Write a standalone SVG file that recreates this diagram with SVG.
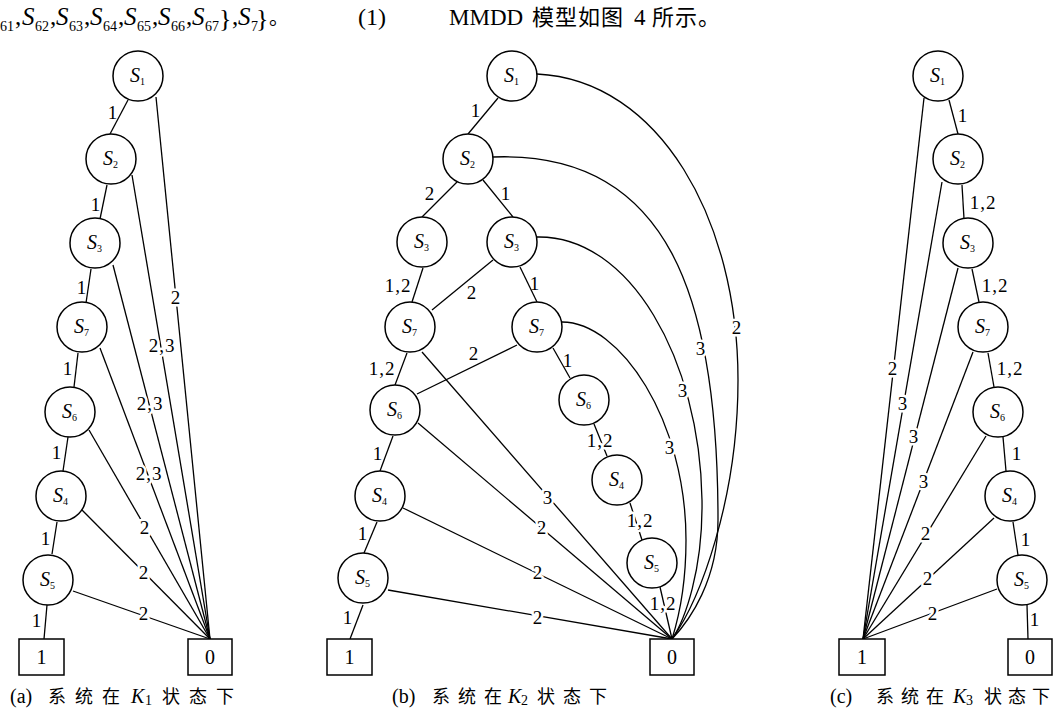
<svg xmlns="http://www.w3.org/2000/svg" width="1060" height="713" viewBox="0 0 1060 713">
<style>
.n circle{fill:#fff;stroke:#000;stroke-width:1.5}
.n rect{fill:#fff;stroke:#000;stroke-width:1.5}
.c line,.c path{stroke:#000;stroke-width:1.3;fill:none}
.t{font-family:"Liberation Serif","Times New Roman",Tinos,"DejaVu Serif",serif;fill:#000}
.nl{font-family:"Liberation Serif","Times New Roman",Tinos,"DejaVu Serif",serif;font-style:italic;font-size:20px;fill:#000}
.sb{font-style:normal;font-size:10px}
.lb{font-family:"Liberation Serif","Times New Roman",Tinos,"DejaVu Serif",serif;font-size:19px;text-anchor:middle;fill:#000;letter-spacing:1px}
.lh{font-family:"Liberation Serif","Times New Roman",Tinos,"DejaVu Serif",serif;font-size:19px;text-anchor:middle;fill:#000;letter-spacing:1px;stroke:#fff;stroke-width:5px;paint-order:stroke;stroke-linejoin:round}
.bx{font-family:"Liberation Serif","Times New Roman",Tinos,"DejaVu Serif",serif;font-size:20px;text-anchor:middle;fill:#000}
.cap{font-family:"Liberation Serif","Times New Roman","Noto Sans CJK SC",serif;font-size:18px;fill:#000}
.cj{font-family:"Liberation Serif","Times New Roman","Noto Sans CJK SC",serif;fill:#000}
</style>

<!-- top running text -->
<g id="toptext" class="t">
<text font-size="25"><tspan x="0" y="31" font-size="14">61</tspan><tspan x="15" y="25">,</tspan><tspan x="22" y="25" font-style="italic">S</tspan><tspan x="35" y="31" font-size="14">62</tspan><tspan x="50" y="25">,</tspan><tspan x="56" y="25" font-style="italic">S</tspan><tspan x="69" y="31" font-size="14">63</tspan><tspan x="84" y="25">,</tspan><tspan x="90" y="25" font-style="italic">S</tspan><tspan x="103" y="31" font-size="14">64</tspan><tspan x="118" y="25">,</tspan><tspan x="124" y="25" font-style="italic">S</tspan><tspan x="137" y="31" font-size="14">65</tspan><tspan x="152" y="25">,</tspan><tspan x="158" y="25" font-style="italic">S</tspan><tspan x="171" y="31" font-size="14">66</tspan><tspan x="186" y="25">,</tspan><tspan x="192" y="25" font-style="italic">S</tspan><tspan x="205" y="31" font-size="14">67</tspan><tspan x="219" y="27" font-size="26">}</tspan><tspan x="232" y="25">,</tspan><tspan x="238" y="25" font-style="italic">S</tspan><tspan x="251" y="31" font-size="14">7</tspan><tspan x="256" y="27" font-size="26">}</tspan></text>
<text x="269" y="25" font-size="20" class="cj">。</text>
<text x="358" y="25" font-size="24">(1)</text>
<text y="25" class="cj"><tspan x="449" font-size="23">MMDD</tspan><tspan x="532" font-size="22" letter-spacing="1">模型如图</tspan><tspan x="634" font-size="23">4</tspan><tspan x="652" font-size="22" letter-spacing="1">所示。</tspan></text>
</g>

<!-- ===== connectors ===== -->
<g id="connectors" class="c">
<!-- panel a -->
<line x1="128" y1="100" x2="110" y2="134"/>
<line x1="107" y1="185" x2="100" y2="219"/>
<line x1="91" y1="269" x2="86" y2="303"/>
<line x1="78" y1="353" x2="74" y2="387"/>
<line x1="68" y1="437" x2="63" y2="471"/>
<line x1="57" y1="522" x2="52" y2="554"/>
<line x1="47" y1="605" x2="44" y2="639"/>
<line x1="156" y1="97" x2="210" y2="639"/>
<line x1="132" y1="175" x2="210" y2="639"/>
<line x1="113" y1="265" x2="210" y2="639"/>
<line x1="100" y1="348" x2="210" y2="639"/>
<line x1="89" y1="430" x2="210" y2="639"/>
<line x1="82" y1="510" x2="210" y2="639"/>
<line x1="73" y1="591" x2="210" y2="639"/>
<!-- panel b -->
<line x1="498" y1="98" x2="468" y2="134"/>
<line x1="457" y1="182" x2="422" y2="217"/>
<line x1="483" y1="180" x2="513" y2="217"/>
<line x1="423" y1="268" x2="412" y2="302"/>
<line x1="493" y1="260" x2="432" y2="310"/>
<line x1="520" y1="267" x2="537" y2="302"/>
<line x1="407" y1="353" x2="395" y2="385"/>
<line x1="517" y1="345" x2="417" y2="394"/>
<line x1="422" y1="352" x2="672" y2="639"/>
<line x1="553" y1="348" x2="570" y2="378"/>
<line x1="393" y1="436" x2="380" y2="471"/>
<line x1="418" y1="423" x2="672" y2="639"/>
<line x1="377" y1="522" x2="364" y2="553"/>
<line x1="403" y1="508" x2="672" y2="639"/>
<line x1="363" y1="605" x2="350" y2="639"/>
<line x1="388" y1="590" x2="672" y2="639"/>
<line x1="594" y1="424" x2="607" y2="456"/>
<line x1="630" y1="503" x2="642" y2="540"/>
<line x1="660" y1="587" x2="672" y2="639"/>
<path d="M537,74 C660,80 738,220 738,380 C738,500 700,600 672,639"/>
<path d="M493,157 C670,150 718,300 718,520 C718,580 690,620 672,639"/>
<path d="M537,237 C630,235 700,360 702,500 C703,570 685,620 672,639"/>
<path d="M562,322 C620,322 686,420 686,540 C686,590 678,620 672,639"/>
<!-- panel c -->
<line x1="949" y1="100" x2="958" y2="134"/>
<line x1="962" y1="185" x2="964" y2="219"/>
<line x1="972" y1="269" x2="979" y2="302"/>
<line x1="988" y1="353" x2="994" y2="387"/>
<line x1="1003" y1="437" x2="1006" y2="471"/>
<line x1="1013" y1="522" x2="1018" y2="555"/>
<line x1="1027" y1="605" x2="1028" y2="639"/>
<line x1="924" y1="98" x2="863" y2="639"/>
<line x1="942" y1="182" x2="863" y2="639"/>
<line x1="958" y1="268" x2="863" y2="639"/>
<line x1="973" y1="352" x2="863" y2="639"/>
<line x1="986" y1="436" x2="863" y2="639"/>
<line x1="994" y1="518" x2="863" y2="639"/>
<line x1="997" y1="589" x2="863" y2="639"/>

<!-- labels panel a -->
<text class="lb" x="113" y="119">1</text>
<text class="lb" x="96" y="211">1</text>
<text class="lb" x="82" y="294">1</text>
<text class="lb" x="68" y="375">1</text>
<text class="lb" x="57" y="459">1</text>
<text class="lb" x="46" y="545">1</text>
<text class="lb" x="37" y="627">1</text>
<text class="lh" x="176" y="304">2</text>
<text class="lh" x="162" y="352">2,3</text>
<text class="lh" x="150" y="410">2,3</text>
<text class="lh" x="149" y="480">2,3</text>
<text class="lh" x="145" y="534">2</text>
<text class="lh" x="144" y="579">2</text>
<text class="lh" x="144" y="620">2</text>
<!-- labels panel b -->
<text class="lb" x="476" y="117">1</text>
<text class="lb" x="430" y="200">2</text>
<text class="lb" x="506" y="200">1</text>
<text class="lb" x="398" y="292">1,2</text>
<text class="lb" x="472" y="299">2</text>
<text class="lb" x="535" y="290">1</text>
<text class="lb" x="382" y="375">1,2</text>
<text class="lb" x="474" y="360">2</text>
<text class="lb" x="568" y="367">1</text>
<text class="lh" x="548" y="504">3</text>
<text class="lb" x="378" y="460">1</text>
<text class="lh" x="542" y="534">2</text>
<text class="lb" x="363" y="540">1</text>
<text class="lh" x="538" y="579">2</text>
<text class="lb" x="348" y="624">1</text>
<text class="lh" x="538" y="624">2</text>
<text class="lh" x="600" y="447">1,2</text>
<text class="lh" x="640" y="527">1,2</text>
<text class="lh" x="663" y="610">1,2</text>
<text class="lh" x="737" y="334">2</text>
<text class="lh" x="701" y="355">3</text>
<text class="lh" x="683" y="397">3</text>
<text class="lh" x="670" y="454">3</text>
<!-- labels panel c -->
<text class="lb" x="963" y="122">1</text>
<text class="lb" x="983" y="209">1,2</text>
<text class="lb" x="995" y="292">1,2</text>
<text class="lb" x="1010" y="375">1,2</text>
<text class="lb" x="1017" y="460">1</text>
<text class="lb" x="1026" y="546">1</text>
<text class="lb" x="1035" y="626">1</text>
<text class="lh" x="893" y="375">2</text>
<text class="lh" x="903" y="410">3</text>
<text class="lh" x="914" y="443">3</text>
<text class="lh" x="924" y="488">3</text>
<text class="lh" x="926" y="540">2</text>
<text class="lh" x="928" y="585">2</text>
<text class="lh" x="933" y="620">2</text>
</g>

<!-- ===== nodes panel a ===== -->
<g id="a_S1" class="n"><circle cx="138" cy="76" r="25"/><text class="nl" x="130" y="82">S<tspan class="sb" dy="3">1</tspan></text></g>
<g id="a_S2" class="n"><circle cx="111" cy="159" r="25"/><text class="nl" x="103" y="165">S<tspan class="sb" dy="3">2</tspan></text></g>
<g id="a_S3" class="n"><circle cx="95" cy="243" r="25"/><text class="nl" x="87" y="249">S<tspan class="sb" dy="3">3</tspan></text></g>
<g id="a_S7" class="n"><circle cx="82" cy="327" r="25"/><text class="nl" x="74" y="333">S<tspan class="sb" dy="3">7</tspan></text></g>
<g id="a_S6" class="n"><circle cx="70" cy="412" r="25"/><text class="nl" x="62" y="418">S<tspan class="sb" dy="3">6</tspan></text></g>
<g id="a_S4" class="n"><circle cx="61" cy="496" r="25"/><text class="nl" x="53" y="502">S<tspan class="sb" dy="3">4</tspan></text></g>
<g id="a_S5" class="n"><circle cx="48" cy="580" r="25"/><text class="nl" x="40" y="586">S<tspan class="sb" dy="3">5</tspan></text></g>
<g id="a_T1" class="n"><rect x="19" y="639" width="45" height="36"/><text class="bx" x="41.5" y="664">1</text></g>
<g id="a_T0" class="n"><rect x="188" y="639" width="44" height="36"/><text class="bx" x="210" y="664">0</text></g>

<!-- ===== nodes panel b ===== -->
<g id="b_S1" class="n"><circle cx="512" cy="76" r="25"/><text class="nl" x="504" y="82">S<tspan class="sb" dy="3">1</tspan></text></g>
<g id="b_S2" class="n"><circle cx="468" cy="159" r="25"/><text class="nl" x="460" y="165">S<tspan class="sb" dy="3">2</tspan></text></g>
<g id="b_S3a" class="n"><circle cx="422" cy="242" r="25"/><text class="nl" x="414" y="248">S<tspan class="sb" dy="3">3</tspan></text></g>
<g id="b_S3b" class="n"><circle cx="512" cy="242" r="25"/><text class="nl" x="504" y="248">S<tspan class="sb" dy="3">3</tspan></text></g>
<g id="b_S7a" class="n"><circle cx="410" cy="327" r="25"/><text class="nl" x="402" y="333">S<tspan class="sb" dy="3">7</tspan></text></g>
<g id="b_S7b" class="n"><circle cx="537" cy="327" r="25"/><text class="nl" x="529" y="333">S<tspan class="sb" dy="3">7</tspan></text></g>
<g id="b_S6a" class="n"><circle cx="395" cy="410" r="25"/><text class="nl" x="387" y="416">S<tspan class="sb" dy="3">6</tspan></text></g>
<g id="b_S6b" class="n"><circle cx="584" cy="400" r="25"/><text class="nl" x="576" y="406">S<tspan class="sb" dy="3">6</tspan></text></g>
<g id="b_S4a" class="n"><circle cx="380" cy="496" r="25"/><text class="nl" x="372" y="502">S<tspan class="sb" dy="3">4</tspan></text></g>
<g id="b_S4b" class="n"><circle cx="617" cy="480" r="25"/><text class="nl" x="609" y="486">S<tspan class="sb" dy="3">4</tspan></text></g>
<g id="b_S5a" class="n"><circle cx="363" cy="578" r="25"/><text class="nl" x="355" y="584">S<tspan class="sb" dy="3">5</tspan></text></g>
<g id="b_S5b" class="n"><circle cx="652" cy="563" r="25"/><text class="nl" x="644" y="569">S<tspan class="sb" dy="3">5</tspan></text></g>
<g id="b_T1" class="n"><rect x="327" y="639" width="45" height="36"/><text class="bx" x="349.5" y="664">1</text></g>
<g id="b_T0" class="n"><rect x="650" y="639" width="44" height="36"/><text class="bx" x="672" y="664">0</text></g>

<!-- ===== nodes panel c ===== -->
<g id="c_S1" class="n"><circle cx="938" cy="76" r="25"/><text class="nl" x="930" y="82">S<tspan class="sb" dy="3">1</tspan></text></g>
<g id="c_S2" class="n"><circle cx="958" cy="159" r="25"/><text class="nl" x="950" y="165">S<tspan class="sb" dy="3">2</tspan></text></g>
<g id="c_S3" class="n"><circle cx="968" cy="243" r="25"/><text class="nl" x="960" y="249">S<tspan class="sb" dy="3">3</tspan></text></g>
<g id="c_S7" class="n"><circle cx="983" cy="327" r="25"/><text class="nl" x="975" y="333">S<tspan class="sb" dy="3">7</tspan></text></g>
<g id="c_S6" class="n"><circle cx="998" cy="412" r="25"/><text class="nl" x="990" y="418">S<tspan class="sb" dy="3">6</tspan></text></g>
<g id="c_S4" class="n"><circle cx="1010" cy="496" r="25"/><text class="nl" x="1002" y="502">S<tspan class="sb" dy="3">4</tspan></text></g>
<g id="c_S5" class="n"><circle cx="1022" cy="580" r="25"/><text class="nl" x="1014" y="586">S<tspan class="sb" dy="3">5</tspan></text></g>
<g id="c_T1" class="n"><rect x="839" y="639" width="46" height="36"/><text class="bx" x="862" y="664">1</text></g>
<g id="c_T0" class="n"><rect x="1008" y="639" width="44" height="36"/><text class="bx" x="1030" y="664">0</text></g>

<!-- captions -->
<g id="captions">
<text class="cap" y="703"><tspan x="10" font-size="20">(a)</tspan><tspan x="48" letter-spacing="9">系统在</tspan><tspan x="131" font-style="italic" font-size="20">K</tspan><tspan x="145" font-size="14" dy="2">1</tspan><tspan x="162" dy="-2" letter-spacing="9">状态下</tspan></text>
<text class="cap" y="703"><tspan x="392" font-size="20">(b)</tspan><tspan x="432" letter-spacing="8">系统在</tspan><tspan x="508" font-style="italic" font-size="20">K</tspan><tspan x="521" font-size="14" dy="2">2</tspan><tspan x="537" dy="-2" letter-spacing="8">状态下</tspan></text>
<text class="cap" y="703"><tspan x="830" font-size="20">(c)</tspan><tspan x="876" letter-spacing="7">系统在</tspan><tspan x="953" font-style="italic" font-size="20">K</tspan><tspan x="966" font-size="14" dy="2">3</tspan><tspan x="984" dy="-2" letter-spacing="6">状态下</tspan></text>
</g>
</svg>
